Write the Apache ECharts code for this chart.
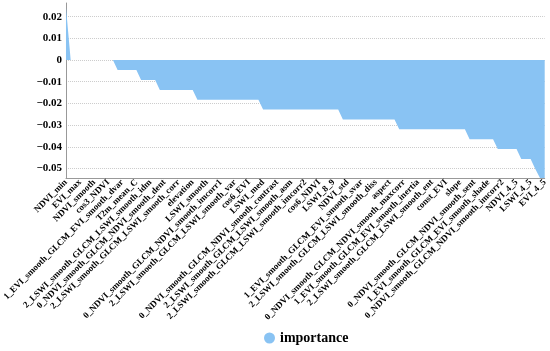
<!DOCTYPE html>
<html>
<head>
<meta charset="utf-8">
<script src="https://cdn.jsdelivr.net/npm/echarts@6/dist/echarts.min.js"></script>
<style>html,body{margin:0;padding:0;background:#fff}#c{width:550px;height:351px}</style>
</head>
<body>
<div id="c"></div>
<script>
// Visible tick labels (every third feature is labelled on the axis)
var labelNames = [
  'NDVI_min','EVI_max','NDVI_smooth','cos3_NDVI','1_EVI_smooth_GLCM_EVI_smooth_dvar',
  'T2m_mean_C','2_LSWI_smooth_GLCM_LSWI_smooth_idm','0_NDVI_smooth_GLCM_NDVI_smooth_dent',
  '2_LSWI_smooth_GLCM_LSWI_smooth_corr','elevation','LSWI_smooth',
  '0_NDVI_smooth_GLCM_NDVI_smooth_imcorr1','2_LSWI_smooth_GLCM_LSWI_smooth_var','cos6_EVI',
  'LSWI_med','0_NDVI_smooth_GLCM_NDVI_smooth_contrast','2_LSWI_smooth_GLCM_LSWI_smooth_asm',
  '2_LSWI_smooth_GLCM_LSWI_smooth_imcorr2','cos6_NDVI','LSWI_8_9','NDVI_std',
  '1_EVI_smooth_GLCM_EVI_smooth_svar','2_LSWI_smooth_GLCM_LSWI_smooth_diss','aspect',
  '0_NDVI_smooth_GLCM_NDVI_smooth_maxcorr','1_EVI_smooth_GLCM_EVI_smooth_inertia',
  '2_LSWI_smooth_GLCM_LSWI_smooth_ent','const_EVI','slope',
  '0_NDVI_smooth_GLCM_NDVI_smooth_sent','1_EVI_smooth_GLCM_EVI_smooth_shade',
  '0_NDVI_smooth_GLCM_NDVI_smooth_imcorr2','NDVI_4_5','LSWI_4_5','EVI_4_5'
];
var labelStep = 3; // one named label per 3 features
// importance values, one per feature (103 features)
var importance = [
  0.0242,
  0,0,0,0,0,0,0,0,0,0,
  -0.0046,-0.0046,-0.0046,-0.0046,-0.0046,
  -0.0092,-0.0092,-0.0092,-0.0092,
  -0.0138,-0.0138,-0.0138,-0.0138,-0.0138,-0.0138,-0.0138,-0.0138,
  -0.0183,-0.0183,-0.0183,-0.0183,-0.0183,-0.0183,-0.0183,-0.0183,-0.0183,-0.0183,-0.0183,-0.0183,-0.0183,-0.0183,
  -0.0228,-0.0228,-0.0228,-0.0228,-0.0228,-0.0228,-0.0228,-0.0228,-0.0228,-0.0228,-0.0228,-0.0228,-0.0228,-0.0228,-0.0228,-0.0228,-0.0228,
  -0.0274,-0.0274,-0.0274,-0.0274,-0.0274,-0.0274,-0.0274,-0.0274,-0.0274,-0.0274,-0.0274,-0.0274,
  -0.0319,-0.0319,-0.0319,-0.0319,-0.0319,-0.0319,-0.0319,-0.0319,-0.0319,-0.0319,-0.0319,-0.0319,-0.0319,-0.0319,-0.0319,
  -0.0365,-0.0365,-0.0365,-0.0365,-0.0365,-0.0365,
  -0.0410,-0.0410,-0.0410,-0.0410,-0.0410,
  -0.0456,-0.0456,-0.0456,
  -0.0502,
  -0.0544,-0.0544
];
var yMin = -0.0544, yMax = 0.0263;

var categories = importance.map(function (v, i) {
  return (i % labelStep === 0) ? (labelNames[i / labelStep] || '') : '';
});

var chart = echarts.init(document.getElementById('c'), null, {renderer: 'canvas'});
var font = '"Liberation Serif","Times New Roman",serif';
chart.setOption({
  animation: false,
  grid: {left: 55, right: 5, top: 3, bottom: 173, containLabel: false},
  legend: {
    data: ['importance'], left: 259, top: 326, icon: 'circle',
    itemWidth: 11, itemHeight: 11, itemGap: 6,
    textStyle: {fontFamily: font, fontWeight: 'bold', fontSize: 14, color: '#000'}
  },
  xAxis: {
    type: 'category', data: categories, boundaryGap: false,
    axisLine: {show: true, onZero: false, lineStyle: {color: '#999', width: 1}},
    axisTick: {show: false},
    axisLabel: {interval: labelStep - 1, rotate: 45, margin: 3, fontFamily: font, fontWeight: 'bold', fontSize: 9, color: '#000'},
    splitLine: {show: false}
  },
  yAxis: {
    type: 'value', min: yMin, max: yMax, splitNumber: 8,
    axisLine: {show: true, lineStyle: {color: '#999', width: 1}},
    axisTick: {show: false},
    axisLabel: {showMinLabel: false, showMaxLabel: false, margin: 4, fontFamily: font, fontWeight: 'bold', fontSize: 11, color: '#000',
      formatter: function (v) { return String(+v.toFixed(4)).replace('-', '\u2212'); }},
    splitLine: {show: true, showMinLine: false, showMaxLine: false, lineStyle: {color: '#ccc', type: 'dotted', width: 1}}
  },
  series: [{
    name: 'importance', type: 'line', data: importance, symbol: 'none',
    itemStyle: {color: '#89c3f3'},
    lineStyle: {width: 0, color: '#89c3f3'},
    areaStyle: {color: '#89c3f3', opacity: 1}
  }]
});
</script>
</body>
</html>
